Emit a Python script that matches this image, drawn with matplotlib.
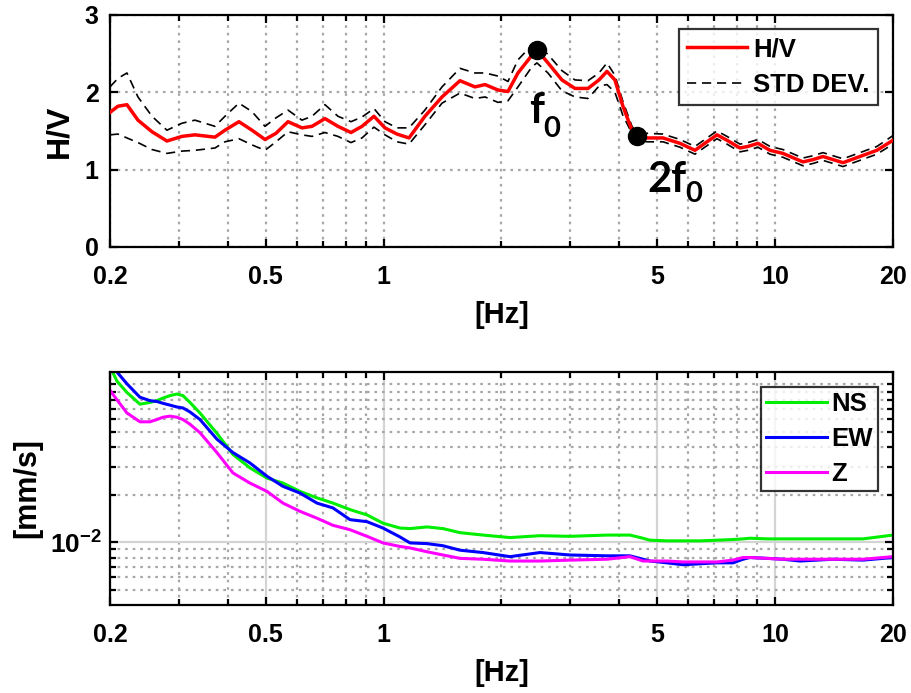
import numpy as np
import matplotlib
matplotlib.use("Agg")
import matplotlib.pyplot as plt
from matplotlib.ticker import FixedLocator, FixedFormatter, NullFormatter

plt.rcParams['font.family'] = ['Liberation Sans', 'DejaVu Sans']
plt.rcParams['font.weight'] = 'bold'
plt.rcParams['mathtext.fontset'] = 'custom'
plt.rcParams['mathtext.rm'] = 'Liberation Sans:bold'
plt.rcParams['mathtext.bf'] = 'Liberation Sans:bold'

# ---- H/V spectral ratio ----
hv_freq = [0.200, 0.2096, 0.2210, 0.2358, 0.2561, 0.2796, 0.3054, 0.3297, 0.3709, 0.3933,
           0.4271, 0.4611, 0.4978, 0.5311, 0.5699, 0.6186, 0.6561, 0.7083, 0.7646, 0.8254,
           0.8805, 0.9449, 1.008, 1.082, 1.161, 1.275, 1.410, 1.567, 1.711, 1.816,
           1.959, 2.078, 2.204, 2.393, 2.464, 2.629, 2.854, 3.082, 3.327, 3.549,
           3.720, 3.898, 4.086, 4.309, 4.437, 4.706, 5.171, 5.715, 6.241, 6.698,
           7.104, 7.534, 8.133, 8.525, 9.040, 9.703, 10.47, 11.78, 12.50, 13.25,
           14.06, 14.91, 16.47, 18.20, 20.0]
hv_mean = [1.74, 1.82, 1.84, 1.64, 1.49, 1.37, 1.43, 1.45, 1.42, 1.51,
           1.62, 1.51, 1.39, 1.47, 1.62, 1.54, 1.56, 1.66, 1.56, 1.48,
           1.56, 1.69, 1.54, 1.46, 1.41, 1.69, 1.94, 2.15, 2.07, 2.10,
           2.03, 2.01, 2.25, 2.48, 2.55, 2.38, 2.16, 2.05, 2.05, 2.16,
           2.27, 2.16, 1.82, 1.51, 1.43, 1.41, 1.41, 1.34, 1.25, 1.36,
           1.45, 1.38, 1.28, 1.30, 1.34, 1.25, 1.21, 1.10, 1.13, 1.17,
           1.13, 1.09, 1.17, 1.25, 1.38]
hv_upper = [2.07, 2.18, 2.25, 1.94, 1.69, 1.51, 1.60, 1.64, 1.56, 1.69,
            1.86, 1.75, 1.56, 1.67, 1.77, 1.64, 1.69, 1.84, 1.69, 1.62,
            1.68, 1.79, 1.62, 1.54, 1.54, 1.77, 2.07, 2.31, 2.25, 2.25,
            2.21, 2.14, 2.42, 2.61, 2.62, 2.49, 2.28, 2.16, 2.15, 2.25,
            2.38, 2.22, 1.88, 1.56, 1.48, 1.47, 1.46, 1.39, 1.30, 1.41,
            1.50, 1.43, 1.33, 1.35, 1.39, 1.30, 1.26, 1.15, 1.18, 1.22,
            1.18, 1.14, 1.22, 1.30, 1.44]
hv_lower = [1.45, 1.46, 1.41, 1.35, 1.26, 1.21, 1.24, 1.25, 1.28, 1.36,
            1.40, 1.32, 1.25, 1.36, 1.49, 1.45, 1.43, 1.48, 1.43, 1.35,
            1.41, 1.55, 1.45, 1.36, 1.33, 1.58, 1.86, 1.99, 1.92, 1.94,
            1.87, 1.89, 2.07, 2.33, 2.38, 2.25, 2.02, 1.94, 1.92, 2.08,
            2.10, 2.00, 1.70, 1.47, 1.39, 1.36, 1.36, 1.29, 1.20, 1.31,
            1.40, 1.33, 1.23, 1.25, 1.29, 1.20, 1.16, 1.05, 1.08, 1.12,
            1.08, 1.04, 1.12, 1.20, 1.33]
f0_hz = 2.464
f2_hz = 4.437

# ---- Component spectra ----
sp_freq = [0.200, 0.2084, 0.2210, 0.2386, 0.2530, 0.2637, 0.2731, 0.2846, 0.2966, 0.3072,
           0.3201, 0.3395, 0.3752, 0.4123, 0.4557, 0.5037, 0.5534, 0.6114, 0.6758, 0.7424,
           0.8206, 0.9068, 0.9963, 1.101, 1.168, 1.290, 1.418, 1.567, 1.794, 2.103,
           2.508, 2.993, 3.720, 4.258, 4.597, 4.790, 5.294, 5.817, 6.428, 7.104,
           7.806, 8.278, 8.626, 9.533, 10.47, 11.57, 12.79, 14.06, 16.77, 20.0]
ns = [0.130, 0.105, 0.089, 0.075, 0.077, 0.079, 0.082, 0.085, 0.087, 0.085,
      0.077, 0.066, 0.049, 0.036, 0.0296, 0.0255, 0.0237, 0.0210, 0.0191, 0.0177,
      0.0161, 0.0149, 0.0132, 0.0123, 0.0122, 0.0125, 0.0122, 0.0115, 0.0111, 0.0107,
      0.0110, 0.0109, 0.0111, 0.0111, 0.0106, 0.0103, 0.0102, 0.0102, 0.0102, 0.0103,
      0.0104, 0.0105, 0.0106, 0.0105, 0.0105, 0.0105, 0.0105, 0.0105, 0.0105, 0.0111]
ew = [0.140, 0.120, 0.101, 0.083, 0.079, 0.078, 0.076, 0.074, 0.072, 0.071,
      0.067, 0.060, 0.045, 0.037, 0.0318, 0.0262, 0.0226, 0.0205, 0.0177, 0.0165,
      0.0139, 0.0135, 0.0123, 0.0108, 0.0099, 0.0098, 0.0095, 0.0089, 0.0086, 0.0081,
      0.0086, 0.0083, 0.0082, 0.0082, 0.0078, 0.0076, 0.0074, 0.0072, 0.0073, 0.0074,
      0.0074, 0.0078, 0.0080, 0.0079, 0.0078, 0.0076, 0.0077, 0.0078, 0.0077, 0.0080]
zz = [0.092, 0.080, 0.066, 0.058, 0.058, 0.060, 0.062, 0.063, 0.062, 0.060,
      0.056, 0.0495, 0.037, 0.0275, 0.0237, 0.0210, 0.0177, 0.0157, 0.0142, 0.0128,
      0.0120, 0.0109, 0.0099, 0.0094, 0.0092, 0.0087, 0.0083, 0.0079, 0.0078, 0.0076,
      0.0076, 0.0077, 0.0078, 0.0081, 0.0076, 0.0076, 0.0076, 0.0075, 0.0075, 0.0075,
      0.0077, 0.0080, 0.0080, 0.0079, 0.0078, 0.0078, 0.0078, 0.0078, 0.0078, 0.0081]

x_major = [0.2, 0.5, 1, 5, 10, 20]
x_major_labels = ['0.2', '0.5', '1', '5', '10', '20']
x_minor = [0.3, 0.4, 0.6, 0.7, 0.8, 0.9, 2, 3, 4, 6, 7, 8, 9]

fig = plt.figure(figsize=(9.11, 6.93), dpi=100)
ax1 = fig.add_axes([0.1207, 0.6436, 0.8595, 0.3348])
ax2 = fig.add_axes([0.1207, 0.1270, 0.8595, 0.3362])

TICK_FS = 18
LABEL_FS = 21
LEG_FS = 18.5
dot_grid = dict(color='#a8a8a8', linestyle=(0, (1.2, 2.2)), linewidth=1.6)


def style_axes(ax):
    ax.set_xscale('log')
    ax.set_xlim(0.2, 20)
    ax.xaxis.set_major_locator(FixedLocator(x_major))
    ax.xaxis.set_major_formatter(FixedFormatter(x_major_labels))
    ax.xaxis.set_minor_locator(FixedLocator(x_minor))
    ax.xaxis.set_minor_formatter(NullFormatter())
    for s in ax.spines.values():
        s.set_linewidth(1.6)
    ax.tick_params(which='both', direction='in', top=True, right=True,
                   width=1.6, labelsize=TICK_FS)
    ax.tick_params(which='major', length=6)
    ax.tick_params(which='minor', length=4)
    ax.tick_params(axis='x', which='major', pad=13)
    ax.tick_params(axis='y', which='major', pad=8)
    for lab in ax.get_xticklabels() + ax.get_yticklabels():
        lab.set_fontweight('bold')


def style_legend(leg):
    leg.get_frame().set_edgecolor('black')
    leg.get_frame().set_linewidth(1.6)
    for t in leg.get_texts():
        t.set_fontweight('bold')


# ---- top panel ----
style_axes(ax1)
ax1.set_ylim(0, 3)
ax1.set_yticks([0, 1, 2, 3])
ax1.set_yticklabels(['0', '1', '2', '3'])
ax1.grid(True, which='both', axis='x', **dot_grid)
ax1.grid(True, which='major', axis='y', **dot_grid)
ax1.set_axisbelow(True)

ax1.plot(hv_freq, hv_mean, color='#ff0000', lw=2.5, label='H/V', zorder=3)
ax1.plot(hv_freq, hv_upper, color='black', lw=1.2, ls=(0, (5.5, 3.5)),
         label='STD DEV.', zorder=2)
ax1.plot(hv_freq, hv_lower, color='black', lw=1.2, ls=(0, (5.5, 3.5)), zorder=2)

fr = np.array(hv_freq)
hv = np.array(hv_mean)
i0 = int(np.argmin(np.abs(fr - f0_hz)))
i2 = int(np.argmin(np.abs(fr - f2_hz)))
ax1.plot([fr[i0], fr[i2]], [hv[i0], hv[i2]], 'o', color='black', ms=13, zorder=4)

ann = dict(family=['Lato', 'DejaVu Sans'], fontweight='bold', color='black')
ax1.text(2.35, 1.60, 'f', fontsize=30, ha='left', va='baseline', **ann)
ax1.text(2.55, 1.42, '0', fontsize=21, ha='left', va='baseline', **ann)
ax1.text(4.71, 0.71, '2f', fontsize=30, ha='left', va='baseline', **ann)
ax1.text(5.89, 0.58, '0', fontsize=21, ha='left', va='baseline', **ann)

ax1.set_ylabel('H/V', fontsize=23, fontweight='bold')
ax1.yaxis.set_label_coords(-0.046, 0.5)
ax1.set_xlabel('[Hz]', fontsize=LABEL_FS, fontweight='bold')
ax1.xaxis.set_label_coords(0.5, -0.233)

leg1 = ax1.legend(loc='upper right', bbox_to_anchor=(0.981, 0.94),
                  borderaxespad=0, fontsize=LEG_FS, frameon=True, fancybox=False,
                  handlelength=2.33, handletextpad=0.23, borderpad=0.33,
                  labelspacing=0.44)
style_legend(leg1)

# ---- bottom panel ----
style_axes(ax2)
ax2.set_yscale('log')
ax2.set_ylim(0.004, 0.12)
ax2.yaxis.set_major_locator(FixedLocator([0.01]))
ax2.yaxis.set_major_formatter(FixedFormatter([r'$\mathbf{10^{-2}}$']))
y_minor = [0.005, 0.006, 0.007, 0.008, 0.009,
           0.02, 0.03, 0.04, 0.05, 0.06, 0.07, 0.08, 0.09, 0.1]
ax2.yaxis.set_minor_locator(FixedLocator(y_minor))
ax2.yaxis.set_minor_formatter(NullFormatter())
ax2.tick_params(axis='y', which='major', pad=6, labelsize=TICK_FS + 1)
ax2.grid(True, which='major', color='#d4d4d4', linestyle='-', linewidth=1.6)
ax2.grid(True, which='minor', **dot_grid)
ax2.set_axisbelow(True)

ax2.plot(sp_freq, ns, color='#00ee00', lw=2.2, label='NS')
ax2.plot(sp_freq, ew, color='#0000ff', lw=2.2, label='EW')
ax2.plot(sp_freq, zz, color='#ff00ff', lw=2.2, label='Z')

ax2.set_ylabel('[mm/s]', fontsize=22, fontweight='bold')
ax2.yaxis.set_label_coords(-0.087, 0.5)
ax2.set_xlabel('[Hz]', fontsize=LABEL_FS, fontweight='bold')
ax2.xaxis.set_label_coords(0.5, -0.232)

leg2 = ax2.legend(loc='upper right', bbox_to_anchor=(0.981, 0.936),
                  borderaxespad=0, fontsize=LEG_FS, frameon=True, fancybox=False,
                  handlelength=2.37, handletextpad=0.2, borderpad=0.19,
                  labelspacing=0.44)
style_legend(leg2)

fig.savefig('out.png', dpi=100)
